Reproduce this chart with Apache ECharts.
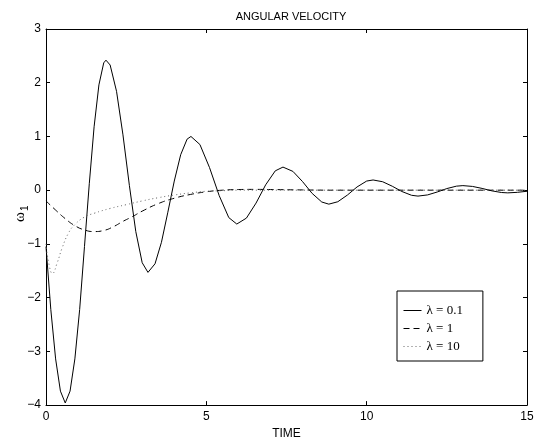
<!DOCTYPE html>
<html>
<head>
<meta charset="utf-8">
<script src="https://cdn.jsdelivr.net/npm/echarts@6/dist/echarts.min.js"></script>
<style>
  html, body { margin: 0; padding: 0; background: #fff; }
  #main { width: 546px; height: 445px; }
</style>
</head>
<body>
<div id="main"></div>
<script>
// lambda = 0.1 (solid)
var lam01Time = [0, 0.15, 0.3, 0.45, 0.6, 0.75, 0.9, 1.05, 1.2, 1.35, 1.5, 1.65, 1.8, 1.87, 2.0, 2.2, 2.4, 2.6, 2.8, 3.0,
  3.18, 3.4, 3.6, 3.8, 4.0, 4.2, 4.4, 4.52, 4.8, 5.1, 5.4, 5.7, 5.95, 6.25, 6.55, 6.85, 7.15, 7.39, 7.7, 8.0,
  8.3, 8.6, 8.82, 9.1, 9.4, 9.7, 10.0, 10.2, 10.5, 10.8, 11.1, 11.4, 11.6, 11.9, 12.2, 12.5, 12.8, 13.0, 13.3, 13.6,
  13.9, 14.2, 14.4, 14.7, 15]
var lam01Vals = [-1.05, -2.22, -3.14, -3.74, -3.96, -3.74, -3.14, -2.22, -1.05, 0.12, 1.18, 1.96, 2.37, 2.42, 2.33, 1.84, 1.03, 0.09, -0.77, -1.35,
  -1.53, -1.37, -0.97, -0.41, 0.17, 0.66, 0.95, 1.0, 0.85, 0.42, -0.1, -0.51, -0.63, -0.52, -0.24, 0.1, 0.36, 0.43, 0.35, 0.16,
  -0.06, -0.22, -0.26, -0.215, -0.09, 0.06, 0.17, 0.19, 0.157, 0.073, -0.025, -0.095, -0.11, -0.088, -0.034, 0.03, 0.075, 0.085, 0.07, 0.033,
  -0.012, -0.043, -0.05, -0.04, -0.02]

// lambda = 1 (dashed)
var lam1Time = [0, 0.3, 0.6, 0.9, 1.2, 1.5, 1.8, 2.1, 2.4, 2.7, 3.0, 3.5, 4.0, 4.5, 5.0, 5.5, 6.0, 6.5, 7.0, 8.0, 9.0, 15]
var lam1Vals = [-0.2, -0.37, -0.53, -0.66, -0.74, -0.77, -0.75, -0.68, -0.58, -0.49, -0.39, -0.25, -0.15, -0.08, -0.03, 0, 0.012, 0.015, 0.012, 0.005, 0, 0]

// lambda = 10 (dotted)
var lam10Time = [0, 0.1, 0.2, 0.35, 0.5, 0.7, 0.9, 1.2, 1.5, 2.0, 2.5, 3.0, 3.5, 4.0, 4.5, 5.0, 5.5, 6.0, 15]
var lam10Vals = [-1.0, -1.4, -1.55, -1.35, -1.08, -0.8, -0.64, -0.5, -0.43, -0.34, -0.27, -0.2, -0.14, -0.09, -0.05, -0.02, -0.01, 0, 0]

var seriesNames = ['λ = 0.1', 'λ = 1', 'λ = 10']

function pairs (xs, ys) {
  var out = []
  for (var i = 0; i < xs.length; i++) out.push([xs[i], ys[i]])
  return out
}

var chart = echarts.init(document.getElementById('main'), null, { renderer: 'canvas' })
var sans = 'Liberation Sans, Arial, Helvetica, sans-serif'

var frameAxis = {
  axisLine: { show: true, onZero: false, lineStyle: { color: '#000', width: 1 } },
  axisTick: { show: true, inside: true, length: 4, lineStyle: { color: '#000' } },
  splitLine: { show: false }
}

var option = {
  animation: false,
  backgroundColor: '#fff',
  title: {
    text: 'ANGULAR VELOCITY',
    left: 286,
    top: 6,
    textAlign: 'center',
    textStyle: { fontFamily: sans, fontSize: 11, fontWeight: 'normal', color: '#000' }
  },
  grid: { left: 46, right: 19, top: 29, bottom: 37 },
  legend: {
    orient: 'vertical',
    left: 397,
    top: 291,
    padding: [13, 20, 8, 6],
    itemGap: 5,
    itemWidth: 18,
    itemHeight: 14,
    borderColor: '#000',
    borderWidth: 1,
    backgroundColor: '#fff',
    itemStyle: { opacity: 0 },
    lineStyle: { width: 1 },
    data: seriesNames,
    textStyle: { fontFamily: 'Liberation Serif, Times New Roman, serif', fontSize: 13, color: '#000' }
  },
  xAxis: [
    Object.assign({
      type: 'value', min: 0, max: 15, interval: 5, position: 'bottom',
      name: 'TIME', nameLocation: 'middle', nameGap: 21,
      nameTextStyle: { fontFamily: sans, fontSize: 12, color: '#000' },
      axisLabel: { show: true, margin: 6, fontFamily: sans, fontSize: 12, color: '#000' }
    }, frameAxis),
    Object.assign({
      type: 'value', min: 0, max: 15, interval: 5, position: 'top',
      axisLabel: { show: false }
    }, frameAxis)
  ],
  yAxis: [
    Object.assign({
      type: 'value', min: -4, max: 3, interval: 1, position: 'left',
      axisLabel: {
        show: true, margin: 5, fontFamily: sans, fontSize: 12, color: '#000',
        formatter: function (v) { return v < 0 ? '\u2212' + Math.abs(v) : String(v) }
      }
    }, frameAxis),
    Object.assign({
      type: 'value', min: -4, max: 3, interval: 1, position: 'right',
      axisLabel: { show: false }
    }, frameAxis)
  ],
  graphic: [{
    type: 'group',
    x: 20,
    y: 222,
    rotation: Math.PI / 2,
    children: [
      { type: 'text', x: 0, y: 0, style: { text: 'ω', font: '15px Liberation Serif, serif', fill: '#000', textVerticalAlign: 'middle', textAlign: 'left' } },
      { type: 'text', x: 11, y: 5, style: { text: '1', font: '10px Liberation Sans, sans-serif', fill: '#000', textVerticalAlign: 'middle', textAlign: 'left' } }
    ]
  }],
  series: [
    {
      name: seriesNames[0],
      type: 'line',
      symbol: 'none',
      smooth: false,
      lineStyle: { color: '#000', width: 1 },
      itemStyle: { color: '#000' },
      data: pairs(lam01Time, lam01Vals)
    },
    {
      name: seriesNames[1],
      type: 'line',
      symbol: 'none',
      smooth: true,
      lineStyle: { color: '#000', width: 1, type: [6, 4] },
      itemStyle: { color: '#000' },
      data: pairs(lam1Time, lam1Vals)
    },
    {
      name: seriesNames[2],
      type: 'line',
      symbol: 'none',
      smooth: true,
      lineStyle: { color: '#666', width: 1, type: [1, 3] },
      itemStyle: { color: '#666' },
      data: pairs(lam10Time, lam10Vals)
    }
  ]
}

chart.setOption(option)
</script>
</body>
</html>
